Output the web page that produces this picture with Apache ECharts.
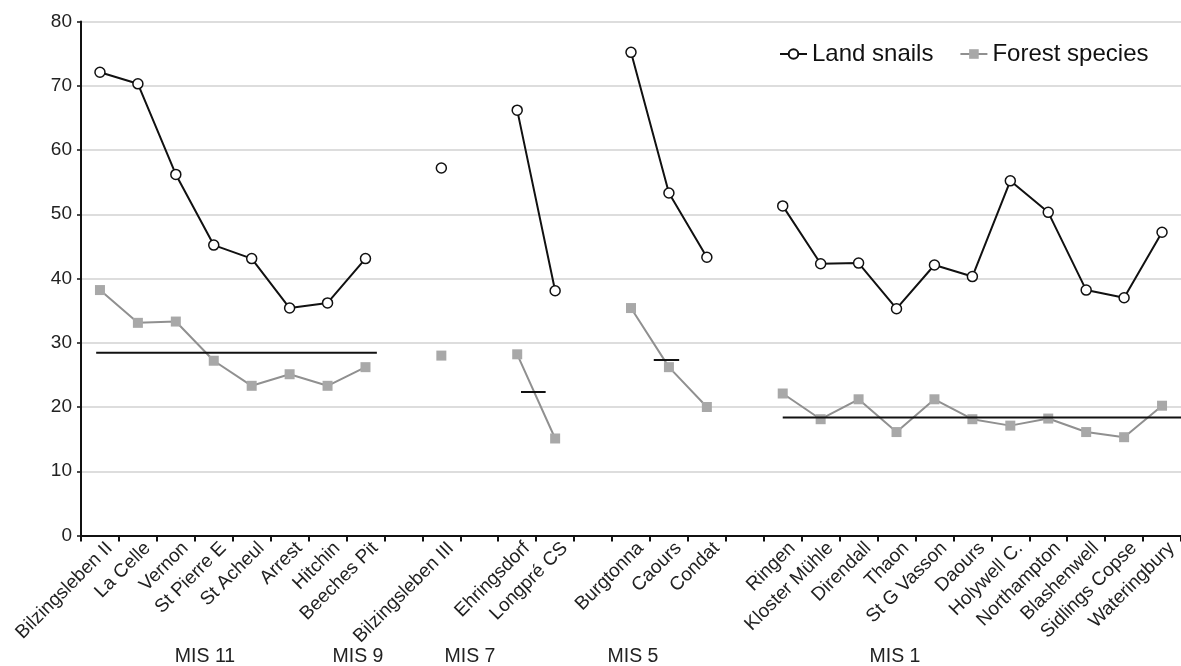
<!DOCTYPE html>
<html>
<head>
<meta charset="utf-8">
<script src="https://cdn.jsdelivr.net/npm/echarts@6/dist/echarts.min.js"></script>
<style>
  html, body { margin: 0; padding: 0; background: #fff; }
  #chart { width: 1181px; height: 666px; }
</style>
</head>
<body>
<div id="chart"></div>
<script>
// ---- data ----
const categories = [
  'Bilzingsleben II', 'La Celle', 'Vernon', 'St Pierre E', 'St Acheul', 'Arrest', 'Hitchin', 'Beeches Pit',
  '', 'Bilzingsleben III', '', 'Ehringsdorf', 'Longpré CS', '',
  'Burgtonna', 'Caours', 'Condat', '',
  'Ringen', 'Kloster Mühle', 'Direndall', 'Thaon', 'St G Vasson', 'Daours', 'Holywell C.',
  'Northampton', 'Blashenwell', 'Sidlings Copse', 'Wateringbury'
];
const landSnails = [
  72.1, 70.3, 56.2, 45.2, 43.1, 35.4, 36.2, 43.1,
  null, 57.2, null, 66.2, 38.1, null,
  75.2, 53.3, 43.3, null,
  51.3, 42.3, 42.4, 35.3, 42.1, 40.3, 55.2, 50.3, 38.2, 37.0, 47.2
];
const forestSpecies = [
  38.2, 33.1, 33.3, 27.2, 23.3, 25.1, 23.3, 26.2,
  null, 28.0, null, 28.2, 15.1, null,
  35.4, 26.2, 20.0, null,
  22.1, 18.1, 21.2, 16.1, 21.2, 18.1, 17.1, 18.2, 16.1, 15.3, 20.2
];
// mean lines per period: [start, end] on the category scale, and mean value
const meanMIS11 = [[0.4, 28.45], [7.8, 28.45]];
const meanMIS7 = [[11.6, 22.35], [12.25, 22.35]];
const meanMIS5 = [[15.1, 27.3], [15.77, 27.3]];
const meanMIS1 = [[18.5, 18.35], [29, 18.35]];
const groupLabels = ['MIS 11', 'MIS 9', 'MIS 7', 'MIS 5', 'MIS 1'];
const yTicks = { min: 0, max: 80, interval: 10 };

// ---- layout (not data) ----
const groupLabelX = [205, 358, 470, 633, 895];
const FONT = '"Liberation Sans", Arial, sans-serif';

const chart = echarts.init(document.getElementById('chart'), null, { renderer: 'canvas' });

function meanSeries(name, data) {
  return {
    name: name, type: 'line', xAxisIndex: 1, yAxisIndex: 0, data: data,
    symbol: 'none', silent: true, z: 4,
    lineStyle: { color: '#111', width: 2 }
  };
}

chart.setOption({
  animation: false,
  textStyle: { fontFamily: FONT },
  grid: { left: 81, right: -12, top: 21.5, bottom: 130.5, containLabel: false },
  legend: {
    data: ['Land snails', 'Forest species'],
    left: 774, top: 37,
    itemWidth: 27, itemHeight: 12, itemGap: 26,
    textStyle: { fontSize: 24, color: '#111', fontFamily: FONT }
  },
  xAxis: [{
    type: 'category',
    data: categories,
    boundaryGap: true,
    axisLine: { lineStyle: { color: '#111', width: 2 } },
    axisTick: { show: true, length: 6, lineStyle: { color: '#111', width: 2 }, alignWithLabel: false, interval: 0 },
    axisLabel: {
      interval: 0, rotate: 45, fontSize: 19, color: '#222', margin: 6, fontFamily: FONT,
      verticalAlign: 'top', padding: [0, -4, 0, 0]
    },
    splitLine: { show: false }
  }, {
    type: 'value', min: 0, max: 29, show: false
  }],
  yAxis: {
    type: 'value', min: yTicks.min, max: yTicks.max, interval: yTicks.interval,
    axisLine: { show: true, lineStyle: { color: '#111', width: 2 } },
    axisTick: { show: true, length: 4, lineStyle: { color: '#111', width: 1.5 } },
    axisLabel: { fontSize: 19, color: '#222', margin: 9, fontFamily: FONT },
    splitLine: { show: true, lineStyle: { color: '#d2d2d2', width: 1.5 } }
  },
  series: [
    {
      name: 'Land snails', type: 'line', data: landSnails, connectNulls: false,
      symbol: 'circle', symbolSize: 10, z: 5,
      lineStyle: { color: '#111', width: 2 },
      itemStyle: { color: '#fff', borderColor: '#111', borderWidth: 1.5 }
    },
    {
      name: 'Forest species', type: 'line', data: forestSpecies, connectNulls: false,
      symbol: 'rect', symbolSize: 10, z: 3,
      lineStyle: { color: '#909090', width: 2 },
      itemStyle: { color: '#a8a8a8', borderColor: '#a8a8a8', borderWidth: 0 }
    },
    meanSeries('MIS 11 mean', meanMIS11),
    meanSeries('MIS 7 mean', meanMIS7),
    meanSeries('MIS 5 mean', meanMIS5),
    meanSeries('MIS 1 mean', meanMIS1)
  ],
  graphic: groupLabels.map(function (t, i) {
    return {
      type: 'text', x: groupLabelX[i], y: 657,
      style: { text: t, font: '19.5px ' + FONT, fill: '#222', textAlign: 'center', textVerticalAlign: 'middle' }
    };
  })
});
</script>
</body>
</html>
